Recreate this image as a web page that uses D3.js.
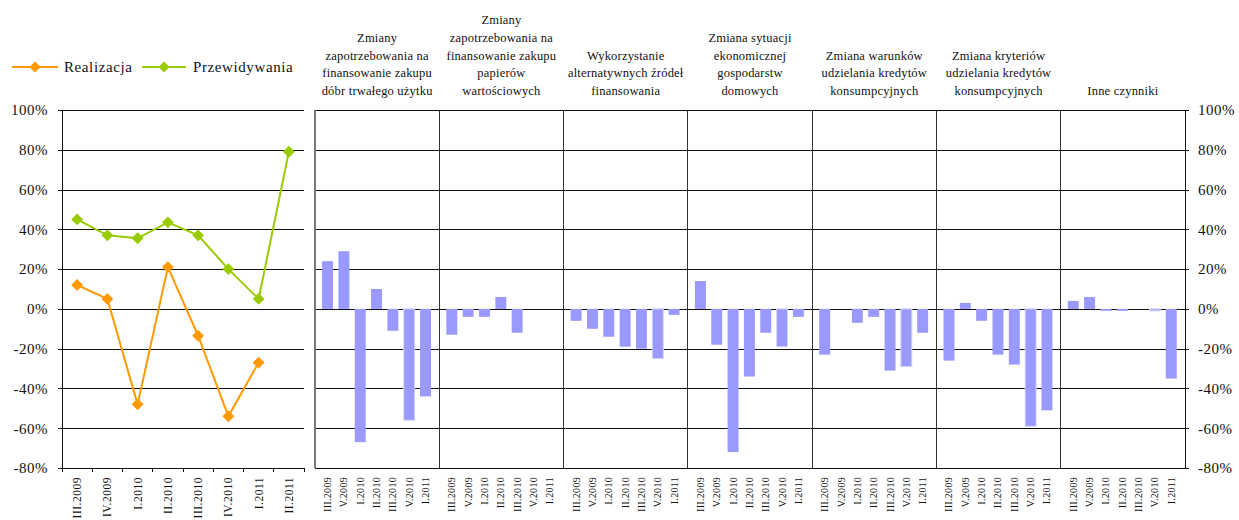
<!DOCTYPE html>
<html>
<head>
<meta charset="utf-8">
<script src="https://cdn.jsdelivr.net/npm/d3@7"></script>
<style>
  body { margin: 0; background: #fff; }
  svg text { font-family: 'Liberation Serif', 'DejaVu Serif', 'Times New Roman', serif !important; fill: #111; }
</style>
</head>
<body>
<div id="chart"></div>
<script>
'use strict';

// left panel: realizacja vs przewidywania
var quarters = ["III.2009", "IV.2009", "I.2010", "II.2010", "III.2010", "IV.2010", "I.2011", "II.2011"];
var realizacja = [12, 5, -48, 21, -13.5, -54, -27, null];
var przewidywania = [45, 37, 35.5, 43.5, 37, 20, 5, 79];

// right panels: factors
var factorQuarters = ["III.2009", "V.2009", "I.2010", "II.2010", "III.2010", "V.2010", "I.2011"];
var dobraTrwale = [24, 29, -67, 10, -11, -56, -44];
var papiery = [-13, -4, -4, 6, -12, 0, 0];
var alternatywne = [-6, -10, -14, -19, -20, -25, -3];
var sytuacja = [14, -18, -72, -34, -12, -19, -4];
var warunki = [-23, 0, -7, -4, -31, -29, -12];
var kryteria = [-26, 3, -6, -23, -28, -59, -51];
var inne = [4, 6, -1, -1, 0, -1, -35];
var factorValues = [dobraTrwale, papiery, alternatywne, sytuacja, warunki, kryteria, inne];
var factorTitles = [
    ["Zmiany", "zapotrzebowania na", "finansowanie zakupu", "dóbr trwałego użytku"],
    ["Zmiany", "zapotrzebowania na", "finansowanie zakupu", "papierów", "wartościowych"],
    ["Wykorzystanie", "alternatywnych źródeł", "finansowania"],
    ["Zmiana sytuacji", "ekonomicznej", "gospodarstw", "domowych"],
    ["Zmiana warunków", "udzielania kredytów", "konsumpcyjnych"],
    ["Zmiana kryteriów", "udzielania kredytów", "konsumpcyjnych"],
    ["Inne czynniki"]
];
var yTicks = [-80, -60, -40, -20, 0, 20, 40, 60, 80, 100];

var SERIF = "'Liberation Serif', 'DejaVu Serif', serif";
var W = 1239, H = 520;
var svg = d3.select("#chart").append("svg").attr("width", W).attr("height", H)
    .attr("font-family", SERIF);

var y = d3.scaleLinear().domain([-80, 100]).range([468, 110]);

////////////
// left panel

var xl = d3.scaleBand().domain(quarters).range([62, 304]);

svg.append("g")
    .attr("transform", "translate(62,0)")
    .call(d3.axisLeft(y).tickValues(yTicks).tickSize(-242).tickFormat(""))
    .call(function (g) {
        g.select(".domain").remove();
        g.selectAll("line").attr("stroke", "#111").attr("shape-rendering", "crispEdges");
    });

svg.append("g")
    .attr("transform", "translate(62,0)")
    .call(d3.axisLeft(y).tickValues(yTicks).tickSize(4).tickPadding(10).tickFormat(function (d) { return d + "%"; }))
    .attr("font-family", SERIF)
    .call(function (g) {
        g.select(".domain").attr("stroke", "#111").attr("shape-rendering", "crispEdges");
        g.selectAll("line").attr("stroke", "#111").attr("shape-rendering", "crispEdges");
        g.selectAll("text").attr("font-size", 15).attr("letter-spacing", 0.5).attr("fill", "#111");
    });

// category boundary ticks
var bounds = quarters.map(function (q) { return xl(q); }).concat([304]);
svg.append("g").selectAll("line").data(bounds).enter().append("line")
    .attr("x1", function (d) { return d; }).attr("x2", function (d) { return d; })
    .attr("y1", 468).attr("y2", 472)
    .attr("stroke", "#111").attr("shape-rendering", "crispEdges");

svg.append("g").selectAll("text").data(quarters).enter().append("text")
    .attr("transform", function (d) {
        return "translate(" + (xl(d) + xl.bandwidth() / 2) + ",477) rotate(-90)";
    })
    .attr("text-anchor", "end")
    .attr("dy", "0.35em")
    .attr("font-size", 11.5)
    .attr("letter-spacing", 0.5)
    .text(function (d) { return d; });

function drawSeries(values, color) {
    var pts = values.map(function (v, i) { return { q: quarters[i], v: v }; })
        .filter(function (d) { return d.v !== null; });
    var line = d3.line()
        .x(function (d) { return xl(d.q) + xl.bandwidth() / 2; })
        .y(function (d) { return y(d.v); });
    svg.append("path").datum(pts)
        .attr("d", line).attr("fill", "none")
        .attr("stroke", color).attr("stroke-width", 2);
    svg.append("g").selectAll("path").data(pts).enter().append("path")
        .attr("d", d3.symbol(d3.symbolSquare, 70)())
        .attr("transform", function (d) {
            return "translate(" + (xl(d.q) + xl.bandwidth() / 2) + "," + y(d.v) + ") rotate(45)";
        })
        .attr("fill", color);
}
drawSeries(przewidywania, "#99CC00");
drawSeries(realizacja, "#FF9900");

// legend
var legend = [
    { name: "Realizacja", color: "#FF9900", x1: 12, x2: 58, tx: 64 },
    { name: "Przewidywania", color: "#99CC00", x1: 142, x2: 186, tx: 193 }
];
legend.forEach(function (l) {
    svg.append("line").attr("x1", l.x1).attr("x2", l.x2).attr("y1", 67).attr("y2", 67)
        .attr("stroke", l.color).attr("stroke-width", 2);
    svg.append("path").attr("d", d3.symbol(d3.symbolSquare, 60)())
        .attr("transform", "translate(" + ((l.x1 + l.x2) / 2) + ",67) rotate(45)")
        .attr("fill", l.color);
    svg.append("text").attr("x", l.tx).attr("y", 72)
        .attr("font-size", 15).attr("letter-spacing", 0.6).text(l.name);
});

////////////
// right panels

var px = d3.scaleBand().domain(d3.range(factorValues.length)).range([315, 1185]);
var xb = d3.scaleBand().domain(factorQuarters).range([-0.6, px.bandwidth() - 0.6])
    .paddingInner(0.33).paddingOuter(0.47);

svg.append("g")
    .attr("transform", "translate(315,0)")
    .call(d3.axisLeft(y).tickValues(yTicks).tickSize(-870).tickFormat(""))
    .call(function (g) {
        g.select(".domain").remove();
        g.selectAll("line").attr("stroke", "#111").attr("shape-rendering", "crispEdges");
    });

svg.append("g")
    .attr("transform", "translate(1185,0)")
    .call(d3.axisRight(y).tickValues(yTicks).tickSize(4).tickPadding(9).tickFormat(function (d) { return d + "%"; }))
    .attr("font-family", SERIF)
    .call(function (g) {
        g.select(".domain").attr("stroke", "#111").attr("shape-rendering", "crispEdges");
        g.selectAll("line").attr("stroke", "#111").attr("shape-rendering", "crispEdges");
        g.selectAll("text").attr("font-size", 15).attr("letter-spacing", 0.5).attr("fill", "#111");
    });

// panel separators
svg.append("g").selectAll("line").data(d3.range(factorValues.length)).enter().append("line")
    .attr("x1", function (i) { return px(i); }).attr("x2", function (i) { return px(i); })
    .attr("y1", 110).attr("y2", 468)
    .attr("stroke", function (i) { return i === 0 ? "#777" : "#333"; })
    .attr("stroke-width", function (i) { return i === 0 ? 1.5 : 1; })
    .attr("shape-rendering", "crispEdges");
svg.append("line").attr("x1", 315).attr("x2", 1185).attr("y1", 468).attr("y2", 468)
    .attr("stroke", "#111").attr("shape-rendering", "crispEdges");

factorValues.forEach(function (vals, i) {
    var g = svg.append("g").attr("transform", "translate(" + px(i) + ",0)");
    g.selectAll("rect").data(vals).enter().append("rect")
        .attr("x", function (d, j) { return xb(factorQuarters[j]); })
        .attr("width", xb.bandwidth())
        .attr("y", function (d) { return y(Math.max(0, d)); })
        .attr("height", function (d) { return Math.abs(y(d) - y(0)); })
        .attr("fill", "#9999FF")
        .attr("stroke", function (d, j) { return j === 5 && d !== 0 ? "#d4d4f8" : "none"; })
        .attr("stroke-width", 1);

    g.selectAll("text.lbl").data(factorQuarters).enter().append("text")
        .attr("class", "lbl")
        .attr("transform", function (d) {
            return "translate(" + (xb(d) + xb.bandwidth() / 2) + ",477) rotate(-90)";
        })
        .attr("text-anchor", "end")
        .attr("dy", "0.35em")
        .attr("font-size", 10)
        .attr("letter-spacing", 0.3)
        .text(function (d) { return d; });

    var lines = factorTitles[i];
    g.selectAll("text.title").data(lines).enter().append("text")
        .attr("class", "title")
        .attr("x", px.bandwidth() / 2)
        .attr("y", function (d, k) { return 95 - (lines.length - 1 - k) * 17.7; })
        .attr("text-anchor", "middle")
        .attr("font-size", 12.5)
        .attr("letter-spacing", 0.2)
        .text(function (d) { return d; });
});
</script>
</body>
</html>
